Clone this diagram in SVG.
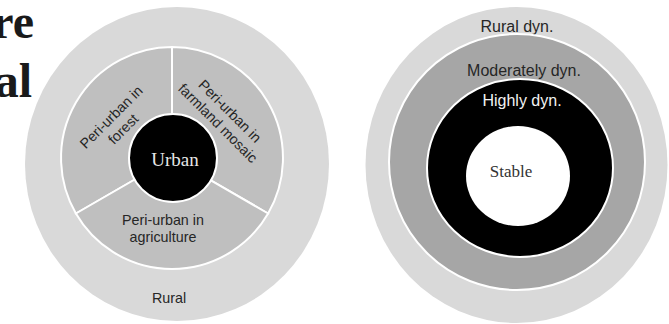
<svg xmlns="http://www.w3.org/2000/svg" width="669" height="324" viewBox="0 0 669 324">
<style>
.lbl{font-family:"Liberation Sans",Arial,sans-serif;fill:#262626;text-anchor:middle}
.s14{font-size:14.3px}
.s16{font-size:16px}
.serif{font-family:"Liberation Serif","Times New Roman",serif;text-anchor:middle}
.seg{fill:#bfbfbf;stroke:#fff;stroke-width:2}
.big{font-family:"Liberation Serif","Times New Roman",serif;font-weight:bold;font-size:48px;fill:#1a1a1a;text-anchor:end}
</style>
<rect width="669" height="324" fill="#fff"/>
<g id="cut-text">
<text class="big" x="34" y="38">re</text>
<text class="big" x="32" y="97">al</text>
</g>
<g id="left-diagram">
<g id="rural">
<ellipse cx="177" cy="164" rx="152" ry="157" fill="#d9d9d9"/>
<text class="lbl s14" x="169" y="303">Rural</text>
</g>
<g id="peri-forest">
<path class="seg" d="M172,158 L172,47 A111,111 0 0,0 75.9,213.5 Z"/>
<text class="lbl s14" transform="translate(116,122) rotate(-45)"><tspan x="0" y="-2">Peri-urban in</tspan><tspan x="0" y="15">forest</tspan></text>
</g>
<g id="peri-farmland">
<path class="seg" d="M172,158 L172,47 A111,111 0 0,1 268.1,213.5 Z"/>
<text class="lbl s14" transform="translate(225,116) rotate(45)"><tspan x="0" y="-2">Peri-urban in</tspan><tspan x="0" y="15">farmland mosaic</tspan></text>
</g>
<g id="peri-agriculture">
<path class="seg" d="M172,158 L75.9,213.5 A111,111 0 0,0 268.1,213.5 Z"/>
<text class="lbl s14" x="163" y="225">Peri-urban in</text>
<text class="lbl s14" x="163" y="242">agriculture</text>
</g>
<g id="urban">
<circle cx="173" cy="158" r="44" fill="#000" stroke="#fff" stroke-width="2"/>
<text class="serif" x="175" y="166" font-size="19" fill="#e6e6e6">Urban</text>
</g>
</g>
<g id="right-diagram">
<g id="rural-dyn">
<ellipse cx="516.5" cy="165" rx="151" ry="158" fill="#d9d9d9"/>
<text class="lbl s16" x="517" y="32">Rural dyn.</text>
</g>
<g id="moderately-dyn">
<circle cx="517" cy="162" r="128" fill="#a6a6a6" stroke="#fff" stroke-width="2"/>
<text class="lbl s16" x="524" y="76">Moderately dyn.</text>
</g>
<g id="highly-dyn">
<ellipse cx="520" cy="168" rx="93" ry="89" fill="#000" stroke="#fff" stroke-width="2"/>
<text class="lbl s16" x="522" y="106" style="fill:#f2f2f2">Highly dyn.</text>
</g>
<g id="stable">
<ellipse cx="518" cy="176" rx="52" ry="50" fill="#fff"/>
<text class="serif" x="511" y="177" font-size="17" fill="#333">Stable</text>
</g>
</g>
</svg>
